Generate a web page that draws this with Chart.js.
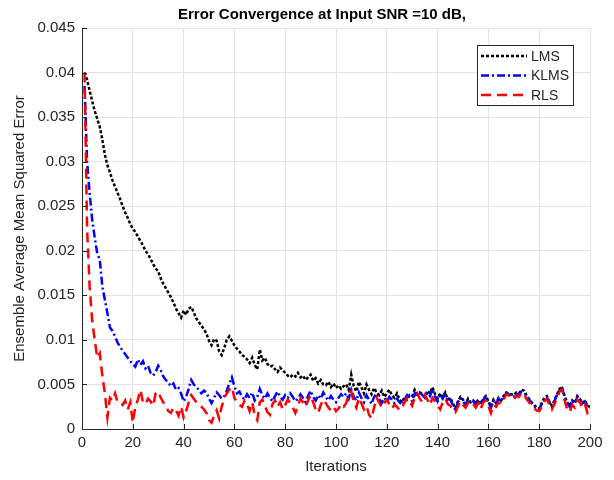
<!DOCTYPE html>
<html>
<head>
<meta charset="utf-8">
<script src="https://cdn.jsdelivr.net/npm/chart.js@4.4.1/dist/chart.umd.min.js"></script>
<style>
  html, body { margin: 0; padding: 0; background: #fff; }
  #wrap { width: 614px; height: 480px; }
</style>
</head>
<body>
<div id="wrap"><canvas id="mse" width="614" height="480"></canvas></div>
<script>
// Ensemble-averaged MSE per iteration (1..200)
var lmsMse = [
  .0400,.0392,.0380,.0368,.0357,.0348,.0339,.0325,.0308,.0296,
  .0288,.0279,.0272,.0265,.0258,.0250,.0243,.0237,.0230,.0225,
  .0221,.0216,.0211,.0206,.0200,.0196,.0191,.0185,.0180,.0177,
  .0169,.0163,.0158,.0153,.0148,.0142,.0135,.0130,.0125,.0133,
  .0128,.0135,.0137,.0131,.0124,.0120,.0116,.0112,.0107,.0099,
  .0094,.0101,.0099,.0087,.0083,.0091,.0100,.0104,.0099,.0094,
  .0090,.0087,.0083,.0081,.0078,.0074,.0080,.0072,.0067,.0089,
  .0077,.0080,.0073,.0070,.0071,.0067,.0064,.0069,.0066,.0063,
  .0060,.0058,.0061,.0059,.0063,.0058,.0060,.0055,.0058,.0061,
  .0054,.0057,.0051,.0055,.0050,.0049,.0053,.0047,.0051,.0046,
  .0049,.0045,.0048,.0050,.0044,.0061,.0048,.0042,.0053,.0047,
  .0040,.0050,.0044,.0039,.0046,.0041,.0038,.0043,.0036,.0040,
  .0044,.0038,.0035,.0040,.0033,.0030,.0036,.0033,.0038,.0037,
  .0044,.0039,.0041,.0039,.0036,.0043,.0040,.0047,.0039,.0034,
  .0040,.0036,.0041,.0033,.0035,.0029,.0023,.0031,.0036,.0033,
  .0028,.0034,.0030,.0032,.0029,.0033,.0028,.0034,.0037,.0031,
  .0025,.0033,.0029,.0035,.0032,.0037,.0041,.0040,.0039,.0038,
  .0041,.0040,.0044,.0043,.0038,.0034,.0030,.0027,.0024,.0023,
  .0029,.0035,.0037,.0031,.0026,.0032,.0039,.0045,.0047,.0037,
  .0030,.0026,.0032,.0029,.0037,.0034,.0029,.0032,.0026,.0025
];
var klmsMse = [
  .0385,.0300,.0265,.0235,.0215,.0197,.0190,.0160,.0145,.0130,
  .0114,.0110,.0104,.0097,.0092,.0088,.0084,.0080,.0076,.0073,
  .0070,.0078,.0072,.0076,.0068,.0071,.0063,.0060,.0064,.0071,
  .0066,.0059,.0055,.0052,.0048,.0051,.0044,.0046,.0040,.0031,
  .0036,.0045,.0055,.0050,.0047,.0044,.0040,.0043,.0041,.0034,
  .0029,.0035,.0041,.0038,.0034,.0037,.0043,.0051,.0058,.0048,
  .0040,.0042,.0036,.0033,.0039,.0035,.0041,.0032,.0036,.0045,
  .0038,.0034,.0040,.0035,.0031,.0037,.0042,.0036,.0033,.0038,
  .0035,.0040,.0036,.0031,.0034,.0039,.0035,.0030,.0037,.0043,
  .0036,.0032,.0038,.0034,.0041,.0036,.0032,.0037,.0033,.0030,
  .0035,.0039,.0036,.0040,.0034,.0044,.0036,.0032,.0041,.0035,
  .0030,.0038,.0033,.0028,.0036,.0040,.0034,.0029,.0035,.0031,
  .0036,.0033,.0029,.0034,.0030,.0027,.0033,.0038,.0035,.0031,
  .0040,.0036,.0042,.0038,.0035,.0041,.0037,.0045,.0036,.0031,
  .0038,.0034,.0039,.0031,.0033,.0027,.0021,.0030,.0035,.0031,
  .0027,.0033,.0029,.0031,.0028,.0032,.0027,.0033,.0036,.0030,
  .0024,.0032,.0028,.0034,.0031,.0036,.0040,.0039,.0037,.0036,
  .0040,.0038,.0042,.0041,.0037,.0033,.0029,.0026,.0023,.0022,
  .0028,.0034,.0036,.0030,.0025,.0031,.0038,.0044,.0046,.0036,
  .0029,.0025,.0031,.0028,.0036,.0033,.0028,.0031,.0025,.0024
];
var rlsMse = [
  .0400,.0225,.0160,.0122,.0100,.0080,.0085,.0060,.0040,.0013,
  .0035,.0032,.0040,.0030,.0029,.0027,.0032,.0022,.0030,.0007,
  .0025,.0033,.0044,.0030,.0028,.0034,.0031,.0026,.0040,.0042,
  .0035,.0030,.0025,.0020,.0018,.0024,.0021,.0015,.0025,.0013,
  .0020,.0030,.0038,.0034,.0030,.0027,.0025,.0022,.0018,.0010,
  .0007,.0015,.0021,.0012,.0025,.0035,.0040,.0044,.0047,.0035,
  .0030,.0027,.0025,.0032,.0028,.0020,.0030,.0015,.0010,.0030,
  .0033,.0026,.0019,.0016,.0028,.0032,.0025,.0030,.0022,.0027,
  .0033,.0029,.0024,.0018,.0026,.0034,.0030,.0025,.0032,.0038,
  .0030,.0022,.0018,.0027,.0033,.0029,.0024,.0021,.0025,.0020,
  .0023,.0028,.0025,.0029,.0038,.0042,.0030,.0024,.0035,.0029,
  .0022,.0026,.0016,.0012,.0024,.0035,.0030,.0024,.0029,.0033,
  .0028,.0023,.0027,.0025,.0021,.0024,.0030,.0035,.0031,.0026,
  .0036,.0040,.0034,.0030,.0038,.0033,.0027,.0035,.0031,.0026,
  .0022,.0030,.0034,.0028,.0026,.0022,.0019,.0025,.0031,.0027,
  .0024,.0029,.0026,.0028,.0024,.0029,.0023,.0030,.0032,.0026,
  .0018,.0027,.0025,.0030,.0028,.0033,.0039,.0038,.0035,.0033,
  .0037,.0036,.0041,.0039,.0034,.0030,.0026,.0023,.0021,.0020,
  .0025,.0031,.0034,.0027,.0022,.0028,.0035,.0042,.0044,.0032,
  .0022,.0019,.0027,.0024,.0033,.0030,.0024,.0028,.0018,.0022
];
var seriesNames = ['LMS', 'KLMS', 'RLS'];
var chartTitle = 'Error Convergence at Input SNR =10 dB,';
var xTickStep = 20;
var yTickStep = 0.005;

var axisColor = '#262626';
var gridColor = '#e3e3e3';
var font = 'Liberation Sans, Arial, Helvetica, sans-serif';

function toPoints(arr) {
    return arr.map(function(v, i) { return { x: i + 1, y: v }; });
}

var styles = [
    { color: '#000000', dash: [3, 2] },
    { color: '#0000ff', dash: [8, 3, 2, 3] },
    { color: '#ff0000', dash: [10, 6] }
];

// title drawn over the axes (slightly left of centre, as in the figure)
var axesTitle = {
    id: 'axesTitle',
    afterDraw: function(chart) {
        var ctx = chart.ctx, a = chart.chartArea;
        ctx.save();
        ctx.fillStyle = '#000';
        ctx.font = 'bold 15px ' + font;
        ctx.textAlign = 'center';
        ctx.textBaseline = 'middle';
        ctx.fillText(chartTitle, (a.left + a.right) / 2 - 14, 15);
        ctx.restore();
    }
};

// MATLAB style ticks pointing into the axes
var innerTicks = {
    id: 'innerTicks',
    afterDraw: function(chart) {
        var ctx = chart.ctx, a = chart.chartArea;
        var xs = chart.scales.x, ys = chart.scales.y;
        ctx.save();
        ctx.strokeStyle = axisColor;
        ctx.lineWidth = 1;
        ctx.beginPath();
        xs.ticks.forEach(function(t) {
            var px = Math.round(xs.getPixelForValue(t.value)) + 0.5;
            ctx.moveTo(px, a.bottom);
            ctx.lineTo(px, a.bottom - 5);
        });
        ys.ticks.forEach(function(t) {
            var py = Math.round(ys.getPixelForValue(t.value)) + 0.5;
            ctx.moveTo(a.left, py);
            ctx.lineTo(a.left + 5, py);
        });
        ctx.stroke();
        ctx.restore();
    }
};

// boxed legend in the upper right corner
var boxLegend = {
    id: 'boxLegend',
    afterDraw: function(chart) {
        var ctx = chart.ctx, a = chart.chartArea;
        var right = a.right - 17, left = right - 96, top = a.top + 17, h = 60;
        ctx.save();
        ctx.fillStyle = '#fff';
        ctx.fillRect(left, top, right - left, h);
        ctx.strokeStyle = axisColor;
        ctx.lineWidth = 1;
        ctx.strokeRect(left + 0.5, top + 0.5, right - left, h);
        ctx.font = '14px ' + font;
        ctx.textBaseline = 'middle';
        for (var i = 0; i < seriesNames.length; i++) {
            var y = top + 11 + i * 19.5;
            ctx.strokeStyle = styles[i].color;
            ctx.lineWidth = 2.5;
            ctx.setLineDash(styles[i].dash);
            ctx.beginPath();
            ctx.moveTo(left + 4, y);
            ctx.lineTo(left + 50, y);
            ctx.stroke();
            ctx.setLineDash([]);
            ctx.fillStyle = axisColor;
            ctx.fillText(seriesNames[i], left + 54, y + 1);
        }
        ctx.restore();
    }
};

var allSeries = [lmsMse, klmsMse, rlsMse];
var datasets = allSeries.map(function(arr, i) {
    return {
        label: seriesNames[i],
        data: toPoints(arr),
        borderColor: styles[i].color,
        borderDash: styles[i].dash,
        borderWidth: 2.5,
        pointRadius: 0,
        tension: 0,
        fill: false,
        order: 2 - i
    };
});

new Chart(document.getElementById('mse'), {
    type: 'line',
    data: { datasets: datasets },
    options: {
        responsive: false,
        animation: false,
        layout: { padding: { left: 0, right: 24, top: 28, bottom: 0 } },
        plugins: {
            legend: { display: false },
            tooltip: { enabled: false },
            title: { display: false }
        },
        scales: {
            x: {
                type: 'linear',
                min: 0,
                max: 200,
                afterFit: function(s) { s.height = 51; },
                ticks: {
                    stepSize: xTickStep,
                    color: axisColor,
                    font: { family: font, size: 15 },
                    padding: 5,
                    maxRotation: 0
                },
                grid: { color: gridColor, drawTicks: false },
                border: { color: axisColor, width: 1 },
                title: {
                    display: true,
                    text: 'Iterations',
                    color: axisColor,
                    font: { family: font, size: 15 },
                    padding: { top: 0, bottom: 4 }
                }
            },
            y: {
                min: 0,
                max: 0.045,
                afterFit: function(s) { s.width = 82; },
                ticks: {
                    stepSize: yTickStep,
                    color: axisColor,
                    font: { family: font, size: 15 },
                    padding: 7,
                    callback: function(v) { return String(Number(v.toFixed(3))); }
                },
                grid: { color: gridColor, drawTicks: false },
                border: { color: axisColor, width: 1 },
                title: {
                    display: true,
                    text: 'Ensemble Average Mean Squared Error',
                    color: axisColor,
                    font: { family: font, size: 15 },
                    padding: { top: 11, bottom: 0 }
                }
            }
        }
    },
    plugins: [axesTitle, innerTicks, boxLegend]
});
</script>
</body>
</html>
